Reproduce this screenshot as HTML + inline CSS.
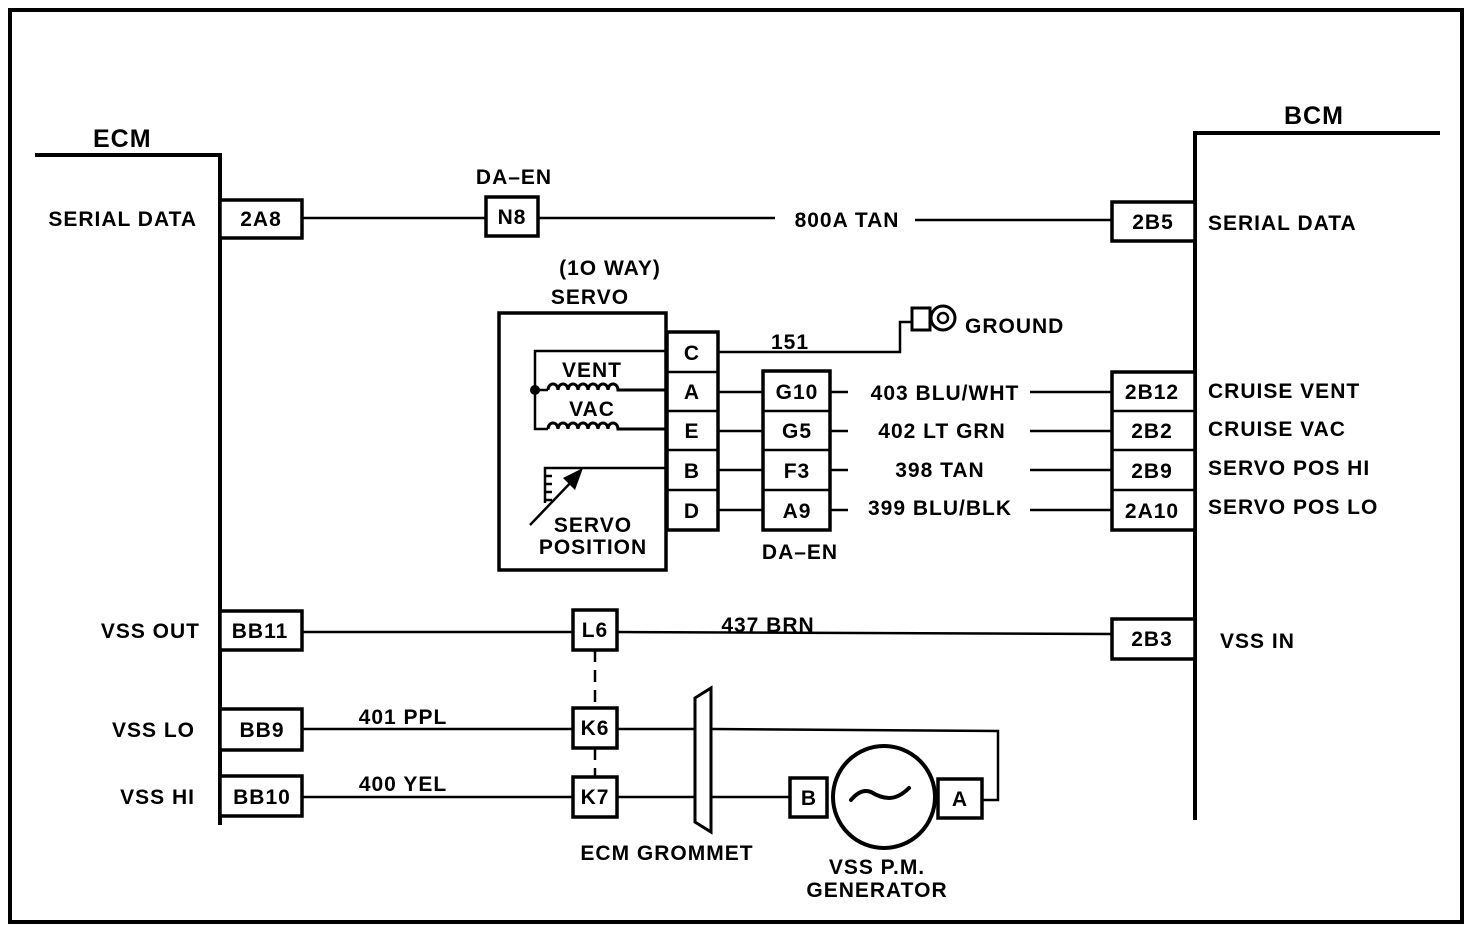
<!DOCTYPE html>
<html><head><meta charset="utf-8"><style>
html,body{margin:0;padding:0;background:#fff;}
svg{display:block;}
text{font-family:"Liberation Sans",sans-serif;font-weight:bold;font-size:21px;fill:#000;letter-spacing:1px;}
.b{fill:#fff;stroke:#000;stroke-width:3.5;}
.w{stroke:#000;stroke-width:2.5;fill:none;}
</style></head><body>
<svg width="1472" height="928" viewBox="0 0 1472 928" xmlns="http://www.w3.org/2000/svg">
<rect x="10" y="10" width="1452" height="912" fill="none" stroke="#000" stroke-width="4"/>
<!-- ECM -->
<polyline class="w" points="35,155 220,155 220,825" style="stroke-width:4"/>
<text x="93" y="147" font-size="25" style="font-size:25px">ECM</text>
<!-- BCM -->
<polyline class="w" points="1440,133 1195,133 1195,820" style="stroke-width:4"/>
<text x="1284" y="124" style="font-size:25px">BCM</text>

<!-- serial data -->
<line class="w" x1="302" y1="218" x2="486" y2="218"/>
<line class="w" x1="538" y1="218" x2="775" y2="218"/>
<line class="w" x1="915" y1="220" x2="1112" y2="220"/>
<rect class="b" x="220" y="200" width="82" height="38"/><text x="261" y="226" text-anchor="middle">2A8</text>
<rect class="b" x="486" y="197" width="52" height="39"/><text x="512" y="224" text-anchor="middle">N8</text>
<text x="514" y="184" text-anchor="middle">DA–EN</text>
<text x="847" y="227" text-anchor="middle">800A TAN</text>
<rect class="b" x="1112" y="202" width="83" height="39"/><text x="1153" y="229" text-anchor="middle">2B5</text>
<text x="197" y="226" text-anchor="end">SERIAL DATA</text>
<text x="1208" y="230">SERIAL DATA</text>

<!-- servo -->
<text x="610" y="275" text-anchor="middle">(1O WAY)</text>
<text x="590" y="304" text-anchor="middle">SERVO</text>
<rect class="b" x="499" y="313" width="167" height="257"/>
<rect class="b" x="667" y="332" width="51" height="198"/>
<line class="w" x1="667" y1="372" x2="718" y2="372"/>
<line class="w" x1="667" y1="411" x2="718" y2="411"/>
<line class="w" x1="667" y1="450" x2="718" y2="450"/>
<line class="w" x1="667" y1="490" x2="718" y2="490"/>
<text x="692" y="360" text-anchor="middle">C</text>
<text x="692" y="399" text-anchor="middle">A</text>
<text x="692" y="438" text-anchor="middle">E</text>
<text x="692" y="478" text-anchor="middle">B</text>
<text x="692" y="518" text-anchor="middle">D</text>
<!-- internal coils -->
<polyline class="w" points="667,351 535,351 535,429 548,429"/>
<circle cx="535" cy="390" r="5"/>
<line class="w" x1="535" y1="390" x2="548" y2="390"/>
<path class="w" style="stroke-width:3" d="M548,390 a5,6 0 0 1 10,0 a5,6 0 0 1 10,0 a5,6 0 0 1 10,0 a5,6 0 0 1 10,0 a5,6 0 0 1 10,0 a5,6 0 0 1 10,0 a5,6 0 0 1 10,0 L667,390"/>
<path class="w" style="stroke-width:3" d="M548,429 a5,6 0 0 1 10,0 a5,6 0 0 1 10,0 a5,6 0 0 1 10,0 a5,6 0 0 1 10,0 a5,6 0 0 1 10,0 a5,6 0 0 1 10,0 a5,6 0 0 1 10,0 L667,429"/>
<text x="592" y="377" text-anchor="middle">VENT</text>
<text x="592" y="416" text-anchor="middle">VAC</text>
<!-- pot -->
<polyline class="w" points="667,468 545,468 545,503"/>
<path class="w" d="M545,476 h7 M545,484 h7 M545,492 h7 M545,500 h7"/>
<line class="w" x1="530" y1="525" x2="575" y2="478"/>
<polygon points="583,468 563,478 575,490"/>
<text x="593" y="532" text-anchor="middle">SERVO</text>
<text x="593" y="554" text-anchor="middle">POSITION</text>
<!-- ground -->
<polyline class="w" points="718,352 900,352 900,322 912,322"/>
<rect class="b" x="912" y="308" width="18" height="22" style="stroke-width:3"/>
<circle cx="943" cy="318" r="12" fill="#fff" stroke="#000" stroke-width="3"/>
<circle cx="943" cy="318" r="5" fill="#fff" stroke="#000" stroke-width="2.5"/>
<text x="965" y="333">GROUND</text>
<text x="790" y="349" text-anchor="middle">151</text>
<!-- DA-EN block -->
<line class="w" x1="718" y1="392" x2="763" y2="392"/>
<line class="w" x1="718" y1="431" x2="763" y2="431"/>
<line class="w" x1="718" y1="470" x2="763" y2="470"/>
<line class="w" x1="718" y1="510" x2="763" y2="510"/>
<rect class="b" x="763" y="371" width="67" height="159"/>
<line class="w" x1="763" y1="411" x2="830" y2="411"/>
<line class="w" x1="763" y1="450" x2="830" y2="450"/>
<line class="w" x1="763" y1="490" x2="830" y2="490"/>
<text x="797" y="399" text-anchor="middle">G10</text>
<text x="797" y="438" text-anchor="middle">G5</text>
<text x="797" y="478" text-anchor="middle">F3</text>
<text x="797" y="518" text-anchor="middle">A9</text>
<text x="800" y="559" text-anchor="middle">DA–EN</text>
<path class="w" d="M830,392 h18 M830,431 h18 M830,470 h18 M830,510 h18"/>
<path class="w" d="M1030,392 h82 M1030,431 h82 M1030,470 h82 M1030,510 h82"/>
<text x="945" y="400" text-anchor="middle">403 BLU/WHT</text>
<text x="942" y="438" text-anchor="middle">402 LT GRN</text>
<text x="940" y="477" text-anchor="middle">398 TAN</text>
<text x="940" y="515" text-anchor="middle">399 BLU/BLK</text>
<rect class="b" x="1112" y="372" width="83" height="158"/>
<line class="w" x1="1112" y1="411" x2="1195" y2="411"/>
<line class="w" x1="1112" y1="450" x2="1195" y2="450"/>
<line class="w" x1="1112" y1="490" x2="1195" y2="490"/>
<text x="1152" y="399" text-anchor="middle">2B12</text>
<text x="1152" y="438" text-anchor="middle">2B2</text>
<text x="1152" y="478" text-anchor="middle">2B9</text>
<text x="1152" y="518" text-anchor="middle">2A10</text>
<text x="1208" y="398">CRUISE VENT</text>
<text x="1208" y="436">CRUISE VAC</text>
<text x="1208" y="475">SERVO POS HI</text>
<text x="1208" y="514">SERVO POS LO</text>

<!-- VSS OUT -->
<line class="w" x1="302" y1="632" x2="573" y2="632"/>
<line class="w" x1="617" y1="632" x2="1112" y2="634"/>
<rect class="b" x="220" y="611" width="82" height="39"/><text x="260" y="638" text-anchor="middle">BB11</text>
<rect class="b" x="573" y="610" width="44" height="40"/><text x="595" y="637" text-anchor="middle">L6</text>
<text x="768" y="632" text-anchor="middle">437 BRN</text>
<rect class="b" x="1112" y="619" width="83" height="40"/><text x="1152" y="646" text-anchor="middle">2B3</text>
<text x="200" y="638" text-anchor="end">VSS OUT</text>
<text x="1220" y="648">VSS IN</text>
<line class="w" x1="595" y1="650" x2="595" y2="708" stroke-dasharray="12,8"/>
<line class="w" x1="595" y1="748" x2="595" y2="777" stroke-dasharray="12,8"/>

<!-- VSS LO/HI -->
<line class="w" x1="302" y1="729" x2="573" y2="729"/>
<line class="w" x1="302" y1="797" x2="573" y2="797"/>
<rect class="b" x="220" y="709" width="82" height="41"/><text x="262" y="737" text-anchor="middle">BB9</text>
<rect class="b" x="220" y="776" width="82" height="40"/><text x="262" y="804" text-anchor="middle">BB10</text>
<text x="403" y="724" text-anchor="middle">401 PPL</text>
<text x="403" y="791" text-anchor="middle">400 YEL</text>
<text x="195" y="737" text-anchor="end">VSS LO</text>
<text x="195" y="804" text-anchor="end">VSS HI</text>
<rect class="b" x="573" y="708" width="44" height="40"/><text x="595" y="735" text-anchor="middle">K6</text>
<rect class="b" x="573" y="777" width="44" height="40"/><text x="595" y="804" text-anchor="middle">K7</text>
<line class="w" x1="617" y1="729" x2="695" y2="729"/>
<line class="w" x1="617" y1="797" x2="695" y2="797"/>
<polygon points="695,698 711,688 711,832 695,822" fill="#fff" stroke="#000" stroke-width="3"/>
<polyline class="w" points="712,729 998,731 998,800 982,800"/>
<line class="w" x1="712" y1="797" x2="790" y2="797"/>
<rect class="b" x="790" y="778" width="37" height="39"/><text x="809" y="805" text-anchor="middle">B</text>
<circle cx="884" cy="797" r="51" fill="#fff" stroke="#000" stroke-width="4"/>
<path d="M851,800 q10,-12 20,-8 q10,6 18,6 q10,0 20,-10" fill="none" stroke="#000" stroke-width="4" stroke-linecap="round"/>
<rect class="b" x="938" y="779" width="44" height="39"/><text x="960" y="806" text-anchor="middle">A</text>
<text x="667" y="860" text-anchor="middle">ECM GROMMET</text>
<text x="877" y="874" text-anchor="middle">VSS P.M.</text>
<text x="877" y="897" text-anchor="middle">GENERATOR</text>
</svg>
</body></html>
